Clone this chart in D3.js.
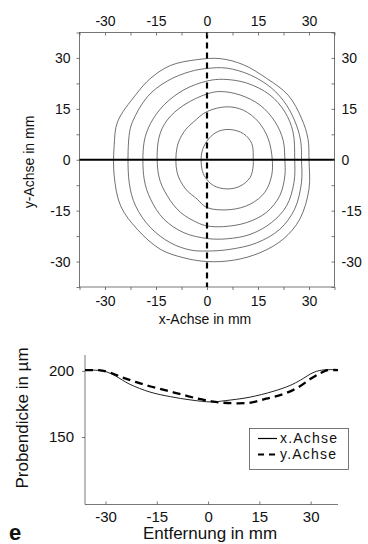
<!DOCTYPE html>
<html>
<head>
<meta charset="utf-8">
<script src="https://cdn.jsdelivr.net/npm/d3@7"></script>
<style>
  body { margin: 0; background: #fff; }
  text { font-family: "Liberation Sans", Arial, sans-serif; fill: #111; }
</style>
</head>
<body>
<div id="chart"></div>
<script>
/*
 *  DATA
 */
var mapTicks = [-30, -15, 0, 15, 30];
var mapMinorTicks = [-37.5, -30, -22.5, -15, -7.5, 0, 7.5, 15, 22.5, 30, 37.5];

// contour rings, [x, y] in mm, innermost first
var ring1 = [[13.6,0],[13.2,4.7],[10.7,7.7],[6.8,8.9],[3.4,8.4],[0.5,6.2],[-1.5,2.3],[-1.5,-2.7],[-0.5,-5.2],[1.9,-7.6],[5.8,-8.6],[9.7,-7.8],[12.7,-5.2],[13.6,-1.7]];
var ring2 = [[19.2,0],[18.0,6.2],[15.1,11.2],[10.7,14.6],[5.8,15.6],[0,14.2],[-3.9,11.2],[-6.8,8.2],[-8.8,3.7],[-8.8,-3.7],[-6.3,-8.6],[-2.9,-11.6],[0,-14.1],[6.8,-14.7],[12.7,-13.1],[17.0,-9.6],[19.0,-4.7]];
var ring3 = [[22.9,0],[22.4,5.7],[20.0,11.2],[15.6,16.1],[9.7,19.1],[3.9,20.1],[0,19.4],[-6.8,16.1],[-11.7,11.7],[-14.2,6.2],[-14.2,-4.7],[-11.7,-10.6],[-7.8,-15.5],[-2.9,-18.5],[0,-19.5],[4.9,-19.7],[11.7,-18.5],[17.5,-15.5],[21.4,-10.6],[22.9,-4.7]];
var ring4 = [[25.8,0],[25.3,8.2],[22.9,14.1],[18.5,19.1],[11.7,22.6],[4.9,23.7],[0,23.2],[-6.8,20.6],[-12.7,16.1],[-16.6,10.7],[-18.5,5.2],[-18.5,-5.6],[-16.6,-11.6],[-12.7,-17.5],[-6.8,-21.5],[0,-23.2],[5.8,-23.3],[12.7,-22.0],[19.0,-18.5],[23.4,-13.6],[25.6,-6.6]];
var ring5 = [[27.8,0],[27.6,5.2],[26.3,10.2],[23.4,16.1],[19.0,21.1],[12.7,25.0],[5.8,27.0],[0,26.9],[-4.9,26.0],[-11.7,23.2],[-17.5,18.6],[-21.9,11.2],[-22.9,7.2],[-22.9,-6.6],[-21.0,-13.6],[-16.6,-20.0],[-10.7,-24.5],[-4.9,-26.6],[0,-26.9],[6.8,-26.4],[14.6,-24.5],[21.4,-20.5],[25.8,-14.5],[27.8,-6.6]];
var ring6 = [[30.0,0],[29.7,6.2],[27.8,12.2],[23.9,19.0],[17.5,24.0],[10.7,28.0],[3.9,29.8],[-2.9,29.5],[-10.7,27.8],[-16.6,24.0],[-21.0,19.1],[-26.3,11.2],[-27.3,4.2],[-27.3,-4.7],[-25.4,-13.6],[-20.5,-20.5],[-13.7,-26.4],[-6.8,-28.9],[0,-30.0],[7.8,-29.6],[15.6,-27.4],[22.4,-23.4],[27.3,-17.5],[30.0,-8.6]];
var rings = [ring1, ring2, ring3, ring4, ring5, ring6];

// thickness profiles
var profileTicksX = [-30, -15, 0, 15, 30];
var profileTicksY = [150, 200];
var xAchseDist =  [-36, -33, -30, -27, -23, -17, -11, -5, 1, 5, 12, 19, 24, 27, 31, 34, 38];
var xAchseThick = [200.5, 200.5, 199.5, 196, 190, 184, 180.5, 178, 176.5, 177.5, 180, 184.5, 189, 193, 199, 200.8, 200.8];
var yAchseDist =  [-36, -32, -29, -25, -21, -16.5, -12, -7.5, -3, 1, 4, 8, 12.5, 17, 21.5, 26, 30, 33, 35, 38];
var yAchseThick = [200.5, 200.5, 199, 195, 191.5, 188, 185, 182, 179, 177, 176, 175.5, 176, 179, 182, 187, 194, 198.5, 200.5, 200.5];
var legendLabels = ["x.Achse", "y.Achse"];

/*
 *  SETUP
 */
var svg = d3.select("#chart")
    .append("svg")
        .attr("width", 368)
        .attr("height", 544);

var frameColor = "#555";

/*
 *  TOP: contour map
 */
var mx = d3.scaleLinear()
    .domain([-37.5, 37.5])
    .range([79.5, 334.5]);
var my = d3.scaleLinear()
    .domain([-37.5, 37.5])
    .range([287, 32.5]);

var map = svg.append("g");

map.append("rect")
    .attr("x", mx(-37.5))
    .attr("y", my(37.5))
    .attr("width", mx(37.5) - mx(-37.5))
    .attr("height", my(-37.5) - my(37.5))
    .attr("fill", "none")
    .attr("stroke", frameColor)
    .attr("stroke-width", 0.8);

var ringLine = d3.line()
    .x(function(d) { return mx(d[0]); })
    .y(function(d) { return my(d[1]); })
    .curve(d3.curveCatmullRomClosed.alpha(0.5));

map.selectAll(".ring")
    .data(rings)
    .enter()
    .append("path")
    .attr("class", "ring")
    .attr("d", ringLine)
    .attr("fill", "none")
    .attr("stroke", "#333")
    .attr("stroke-width", 0.7);

// x axis profile line (solid) and y axis profile line (dashed)
map.append("line")
    .attr("x1", mx(-37.5)).attr("x2", mx(37.5))
    .attr("y1", my(0)).attr("y2", my(0))
    .attr("stroke", "#000")
    .attr("stroke-width", 2);
map.append("line")
    .attr("x1", mx(0)).attr("x2", mx(0))
    .attr("y1", my(37.5)).attr("y2", my(-37.5))
    .attr("stroke", "#000")
    .attr("stroke-width", 2.2)
    .style("stroke-dasharray", "6, 4");

function styleAxis(g) {
    g.select(".domain").remove();
    g.selectAll(".tick line").attr("stroke", frameColor).attr("stroke-width", 0.8);
    g.selectAll(".tick text")
        .attr("font-size", "14px")
        .attr("font-family", "Liberation Sans, Arial, sans-serif")
        .attr("fill", "#111");
}

function fmt(d) { return d < 0 ? "-" + Math.abs(d) : "" + d; }

// minor + major ticks, labels only at majors
[["bottom", 287, d3.axisBottom, 3], ["top", 32.5, d3.axisTop, -3]].forEach(function(a) {
    var ax = a[2](mx).tickValues(mapMinorTicks).tickSize(a[3]).tickFormat("");
    map.append("g")
        .attr("transform", "translate(0," + a[1] + ")")
        .call(ax)
        .call(styleAxis);
    var lab = a[2](mx).tickValues(mapTicks).tickSize(0).tickPadding(a[0] == "bottom" ? 9 : 7).tickFormat(fmt);
    map.append("g")
        .attr("transform", "translate(0," + a[1] + ")")
        .call(lab)
        .call(styleAxis);
});
[["left", 79.5, d3.axisLeft, 3], ["right", 334.5, d3.axisRight, -3]].forEach(function(a) {
    var ax = a[2](my).tickValues(mapMinorTicks).tickSize(a[3]).tickFormat("");
    map.append("g")
        .attr("transform", "translate(" + a[1] + ",0)")
        .call(ax)
        .call(styleAxis);
    var lab = a[2](my).tickValues(mapTicks).tickSize(0).tickPadding(a[0] == "left" ? 9 : 7).tickFormat(fmt);
    map.append("g")
        .attr("transform", "translate(" + a[1] + ",0)")
        .call(lab)
        .call(styleAxis);
});

map.append("text")
    .attr("x", 205)
    .attr("y", 324)
    .attr("text-anchor", "middle")
    .attr("font-size", "14px")
    .text("x-Achse in mm");

map.append("text")
    .attr("transform", "translate(34,162)rotate(-90)")
    .attr("text-anchor", "middle")
    .attr("font-size", "14px")
    .text("y-Achse in mm");

/*
 *  BOTTOM: thickness profiles
 */
var px = d3.scaleLinear()
    .domain([-36, 38])
    .range([85, 338]);
var py = d3.scaleLinear()
    .domain([99, 212])
    .range([504.5, 355]);

var prof = svg.append("g");

prof.append("line")
    .attr("x1", px(-36)).attr("x2", px(-36))
    .attr("y1", py(212)).attr("y2", py(99))
    .attr("stroke", frameColor).attr("stroke-width", 0.8);
prof.append("line")
    .attr("x1", px(-36)).attr("x2", px(38))
    .attr("y1", py(99)).attr("y2", py(99))
    .attr("stroke", frameColor).attr("stroke-width", 0.8);

prof.append("g")
    .attr("transform", "translate(0," + py(99) + ")")
    .call(d3.axisBottom(px).tickValues(profileTicksX).tickSize(-3).tickPadding(7).tickFormat(fmt))
    .call(styleAxis)
    .selectAll(".tick text").attr("font-size", "15px");

prof.append("g")
    .attr("transform", "translate(" + px(-36) + ",0)")
    .call(d3.axisLeft(py).tickValues(profileTicksY).tickSize(3).tickPadding(8))
    .call(styleAxis)
    .selectAll(".tick text").attr("font-size", "15px");

var xLine = d3.line()
    .x(function(d, i) { return px(xAchseDist[i]); })
    .y(function(d) { return py(d); })
    .curve(d3.curveCatmullRom.alpha(0.5));
var yLine = d3.line()
    .x(function(d, i) { return px(yAchseDist[i]); })
    .y(function(d) { return py(d); })
    .curve(d3.curveCatmullRom.alpha(0.5));

prof.append("path")
    .datum(xAchseThick)
    .attr("d", xLine)
    .attr("fill", "none")
    .attr("stroke", "#222")
    .attr("stroke-width", 1);

prof.append("path")
    .datum(yAchseThick)
    .attr("d", yLine)
    .attr("fill", "none")
    .attr("stroke", "#000")
    .attr("stroke-width", 2.3)
    .style("stroke-dasharray", "8, 5");

// legend
var legend = prof.append("g");
legend.append("rect")
    .attr("x", 249.5)
    .attr("y", 428.5)
    .attr("width", 99)
    .attr("height", 41)
    .attr("fill", "#fff")
    .attr("stroke", frameColor)
    .attr("stroke-width", 0.8);

legend.selectAll(".legline")
    .data(legendLabels)
    .enter()
    .append("line")
    .attr("x1", 258).attr("x2", 277)
    .attr("y1", function(d, i) { return 438.5 + i * 16; })
    .attr("y2", function(d, i) { return 438.5 + i * 16; })
    .attr("stroke", "#000")
    .attr("stroke-width", function(d, i) { return i == 0 ? 1.2 : 2; })
    .style("stroke-dasharray", function(d, i) { return i == 0 ? null : "6, 5"; });

legend.selectAll(".legtext")
    .data(legendLabels)
    .enter()
    .append("text")
    .attr("x", 280)
    .attr("y", function(d, i) { return 443 + i * 16; })
    .attr("font-size", "14px")
    .attr("letter-spacing", "1.2px")
    .text(function(d) { return d; });

prof.append("text")
    .attr("x", 210)
    .attr("y", 539)
    .attr("text-anchor", "middle")
    .attr("font-size", "17px")
    .text("Entfernung in mm");

prof.append("text")
    .attr("transform", "translate(28,418)rotate(-90)")
    .attr("text-anchor", "middle")
    .attr("font-size", "17px")
    .text("Probendicke in µm");

prof.append("text")
    .attr("x", 9)
    .attr("y", 540)
    .attr("font-size", "22px")
    .attr("font-weight", "bold")
    .text("e");
</script>
</body>
</html>
